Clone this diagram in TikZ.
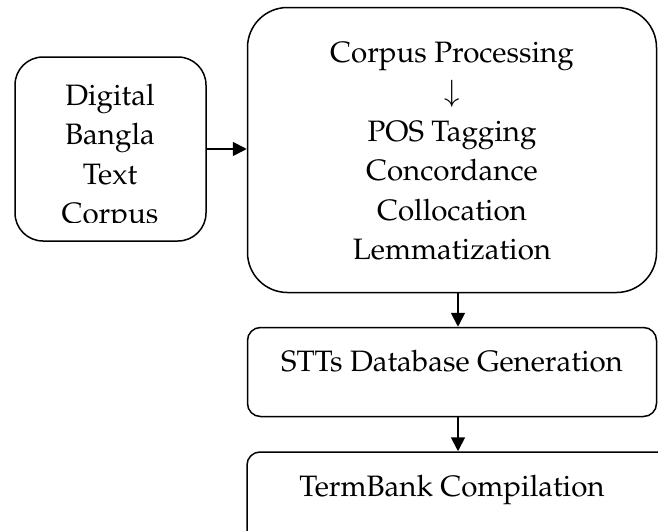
\documentclass[tikz,border=0pt]{standalone}
\usepackage[T1]{fontenc}
\usepackage{mathpazo}
\usetikzlibrary{arrows.meta}
\begin{document}
\begin{tikzpicture}[x=1pt,y=-1pt,
  box/.style={draw,line width=1.5pt,rectangle,inner sep=0pt,anchor=center},
  txt/.style={align=center,inner sep=0pt,font=\fontsize{29.5}{39.4}\selectfont},
  arr/.style={line width=1.8pt,-{Triangle[length=14pt,width=14pt]}}]
\useasboundingbox (0,0) rectangle (658,530);
% boxes
\node[box,rounded corners=28pt,minimum width=191pt,minimum height=184pt] (left) at (110.5,149) {};
\node[box,rounded corners=40pt,minimum width=409pt,minimum height=285pt] (big) at (452,150) {};
\node[box,rounded corners=13pt,minimum width=409pt,minimum height=89pt] (stt) at (452,372) {};
\node[box,rounded corners=13pt,minimum width=433pt,minimum height=110pt] (term) at (463.5,507) {};
% texts
\begin{scope}
\clip (15,57) rectangle (206,222);
\node[txt] (lefttext) at (110,158) {Digital\\Bangla\\Text\\Corpus};
\end{scope}
\node[txt] (bigtext) at (452,151) {Corpus Processing\\$\downarrow$\\POS Tagging\\Concordance\\Collocation\\Lemmatization};
\node[txt] (stttext) at (452,361) {STTs Database Generation};
\node[txt] (termtext) at (452,490) {TermBank Compilation};
% connectors
\draw[arr] (left.east) -- (left.east -| big.west);
\draw[arr] ([xshift=6pt]big.south) -- ([xshift=6pt]stt.north);
\draw[arr] ([xshift=6pt]stt.south) -- ([xshift=6pt]stt.south |- term.north);
\end{tikzpicture}
\end{document}
